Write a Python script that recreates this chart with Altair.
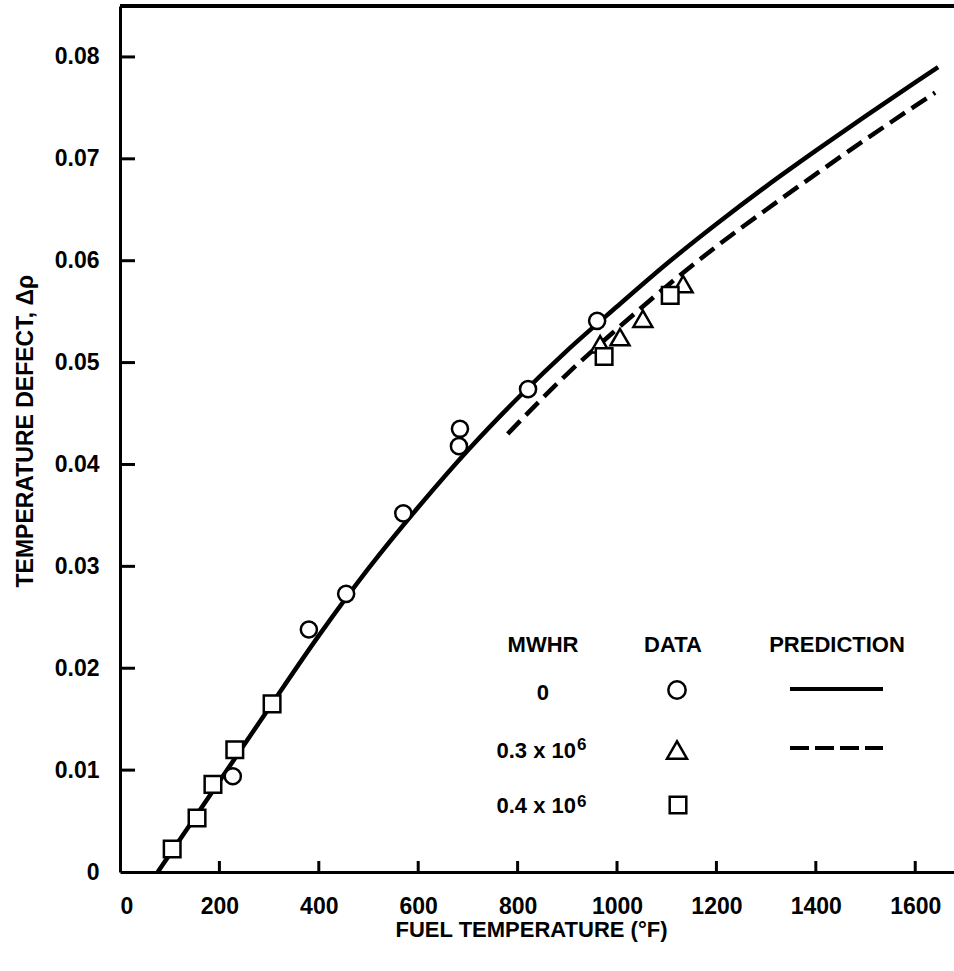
import altair as alt
import pandas as pd

# ---------------- data ----------------
circle_temp = [227, 380, 455, 570, 682, 684, 821, 960]
circle_defect = [0.0094, 0.0238, 0.0273, 0.0352, 0.0418, 0.0435, 0.0474, 0.0541]

triangle_temp = [966, 1006, 1052, 1133]
triangle_defect = [0.0518, 0.0525, 0.0543, 0.0577]

square_temp = [105, 155, 187, 231, 306, 974, 1107]
square_defect = [0.00225, 0.0053, 0.0086, 0.0120, 0.0165, 0.0506, 0.0566]

solid_temp = [76, 150, 200, 300, 400, 500, 600, 700, 800, 900, 1000, 1100,
              1200, 1300, 1400, 1500, 1600, 1646]
solid_defect = [0.0, 0.0053, 0.0089, 0.0161, 0.0232, 0.0298, 0.0358, 0.0414,
                0.0465, 0.0512, 0.0555, 0.0597, 0.0636, 0.0673, 0.0708,
                0.0742, 0.0775, 0.0790]

dashed_temp = [780, 900, 1000, 1100, 1200, 1300, 1400, 1500, 1600, 1640]
dashed_defect = [0.0430, 0.0489, 0.0533, 0.0575, 0.0614, 0.0650, 0.0685,
                 0.0719, 0.0752, 0.0765]

x_ticks = [0, 200, 400, 600, 800, 1000, 1200, 1400, 1600]
y_ticks = [0, 0.01, 0.02, 0.03, 0.04, 0.05, 0.06, 0.07, 0.08]

legend_headers = ["MWHR", "DATA", "PREDICTION"]
legend_mwhr = ["0", "0.3 x 10", "0.4 x 10"]
legend_exp = ["6", "6"]
legend_shapes = ["circle", "triangle-up", "square"]

# ---------------- layout ----------------
W, H = 834, 866
XMAX, YMAX = 1678, 0.0850
FONT = "Liberation Sans, Arial, sans-serif"

xs = alt.Scale(domain=[0, XMAX], nice=False, zero=False)
ys = alt.Scale(domain=[0, YMAX], nice=False, zero=False)

x_axis = alt.Axis(values=x_ticks, format="d", grid=False, ticks=False, tickSize=0,
                  labelPadding=41, labelBaseline="alphabetic",
                  labelFontSize=23, labelFont=FONT,
                  labelFontWeight="bold", domainWidth=3, domainColor="black",
                  labelColor="black", title="FUEL TEMPERATURE (°F)",
                  titleFont=FONT, titleFontSize=22, titleFontWeight="bold",
                  titleX=411, titleY=64, titleBaseline="alphabetic",
                  titleAlign="center", titleColor="black")
y_axis = alt.Axis(values=y_ticks, grid=False, ticks=False, tickSize=0,
                  labelPadding=21, labelFontSize=23, labelFont=FONT,
                  labelFontWeight="bold", domainWidth=3, domainColor="black",
                  labelColor="black",
                  labelExpr="datum.value == 0 ? '0' : format(datum.value, '.2f')",
                  title="TEMPERATURE DEFECT, Δρ", titleFont=FONT,
                  titleFontSize=23, titleFontWeight="bold", titleAngle=270,
                  titleX=-88, titleY=581, titleAlign="left",
                  titleBaseline="alphabetic", titleColor="black")

solid_df = pd.DataFrame({"t": solid_temp, "d": solid_defect})
dashed_df = pd.DataFrame({"t": dashed_temp, "d": dashed_defect})
circ_df = pd.DataFrame({"t": circle_temp, "d": circle_defect})
tri_df = pd.DataFrame({"t": triangle_temp, "d": triangle_defect})
sq_df = pd.DataFrame({"t": square_temp, "d": square_defect})

solid = alt.Chart(solid_df).mark_line(color="black", strokeWidth=4.5,
                                      interpolate="monotone").encode(
    x=alt.X("t:Q", scale=xs, axis=x_axis),
    y=alt.Y("d:Q", scale=ys, axis=y_axis),
)
dashed = alt.Chart(dashed_df).mark_line(color="black", strokeWidth=4.5,
                                        strokeDash=[18, 8],
                                        interpolate="monotone").encode(
    x=alt.X("t:Q", scale=xs), y=alt.Y("d:Q", scale=ys))


def pts(df, shape, size):
    return alt.Chart(df).mark_point(shape=shape, size=size, filled=False,
                                    fill="white", fillOpacity=1,
                                    stroke="black", strokeWidth=2.5,
                                    opacity=1).encode(
        x=alt.X("t:Q", scale=xs), y=alt.Y("d:Q", scale=ys))


circles = pts(circ_df, "circle", 260)
triangles = pts(tri_df, "triangle-up", 360)
squares = pts(sq_df, "square", 275)

# inward ticks
xt_df = pd.DataFrame({"t": x_ticks[1:]})
yt_df = pd.DataFrame({"d": y_ticks[1:]})
xticks = alt.Chart(xt_df).mark_rule(color="black", strokeWidth=3).encode(
    x=alt.X("t:Q", scale=xs), y=alt.value(H), y2=alt.value(H - 11))
yticks = alt.Chart(yt_df).mark_rule(color="black", strokeWidth=3).encode(
    y=alt.Y("d:Q", scale=ys), x=alt.value(0), x2=alt.value(15))
top_rule = alt.Chart(xt_df).mark_rule(color="black", strokeWidth=3).encode(
    x=alt.value(0), x2=alt.value(W), y=alt.value(0))

# ---------------- legend (pixel layout inside plot area) ----------------
head_df = pd.DataFrame({"label": legend_headers, "px": [423, 553, 717],
                        "py": [646, 646, 646]})
heads = alt.Chart(head_df).mark_text(font=FONT, fontSize=22,
                                     fontWeight="bold", align="center",
                                     baseline="alphabetic", color="black").encode(
    x=alt.X("px:Q", scale=None, axis=None), y=alt.Y("py:Q", scale=None, axis=None),
    text="label:N")
mw_df = pd.DataFrame({"label": legend_mwhr, "px": [429, 456, 456],
                      "py": [694, 752, 807]})
mw = alt.Chart(mw_df).mark_text(font=FONT, fontSize=22, fontWeight="bold",
                                align="right", baseline="alphabetic",
                                color="black").encode(
    x=alt.X("px:Q", scale=None, axis=None), y=alt.Y("py:Q", scale=None, axis=None),
    text="label:N")
ex_df = pd.DataFrame({"label": legend_exp, "px": [457, 457], "py": [744, 801]})
ex = alt.Chart(ex_df).mark_text(font=FONT, fontSize=17, fontWeight="bold",
                                align="left", baseline="alphabetic",
                                color="black").encode(
    x=alt.X("px:Q", scale=None, axis=None), y=alt.Y("py:Q", scale=None, axis=None),
    text="label:N")
sym_df = pd.DataFrame({"shape": legend_shapes, "px": [557, 557, 558],
                       "py": [684, 744, 799], "sz": [300, 400, 275]})
syms = alt.Chart(sym_df).mark_point(filled=False, fill="white", fillOpacity=1,
                                    stroke="black", strokeWidth=2.5,
                                    opacity=1).encode(
    x=alt.X("px:Q", scale=None, axis=None), y=alt.Y("py:Q", scale=None, axis=None),
    shape=alt.Shape("shape:N", scale=None, legend=None),
    size=alt.Size("sz:Q", scale=None, legend=None))
leg_solid = alt.Chart(xt_df).mark_rule(color="black", strokeWidth=4).encode(
    x=alt.value(670), x2=alt.value(763), y=alt.value(683))
leg_dash = alt.Chart(xt_df).mark_rule(color="black", strokeWidth=4,
                                      strokeDash=[19, 6]).encode(
    x=alt.value(670), x2=alt.value(763), y=alt.value(742))

chart = alt.layer(
    solid, dashed, xticks, yticks, top_rule, circles, triangles, squares,
    heads, mw, ex, syms, leg_solid, leg_dash
).properties(
    width=W, height=H,
    autosize=alt.AutoSizeParams(type="none"),
    padding={"left": 120, "top": 6, "right": 0, "bottom": 99},
    background="white",
).configure_view(stroke=None)

chart.save("out.html", embed_options={"renderer": "svg", "actions": False})
